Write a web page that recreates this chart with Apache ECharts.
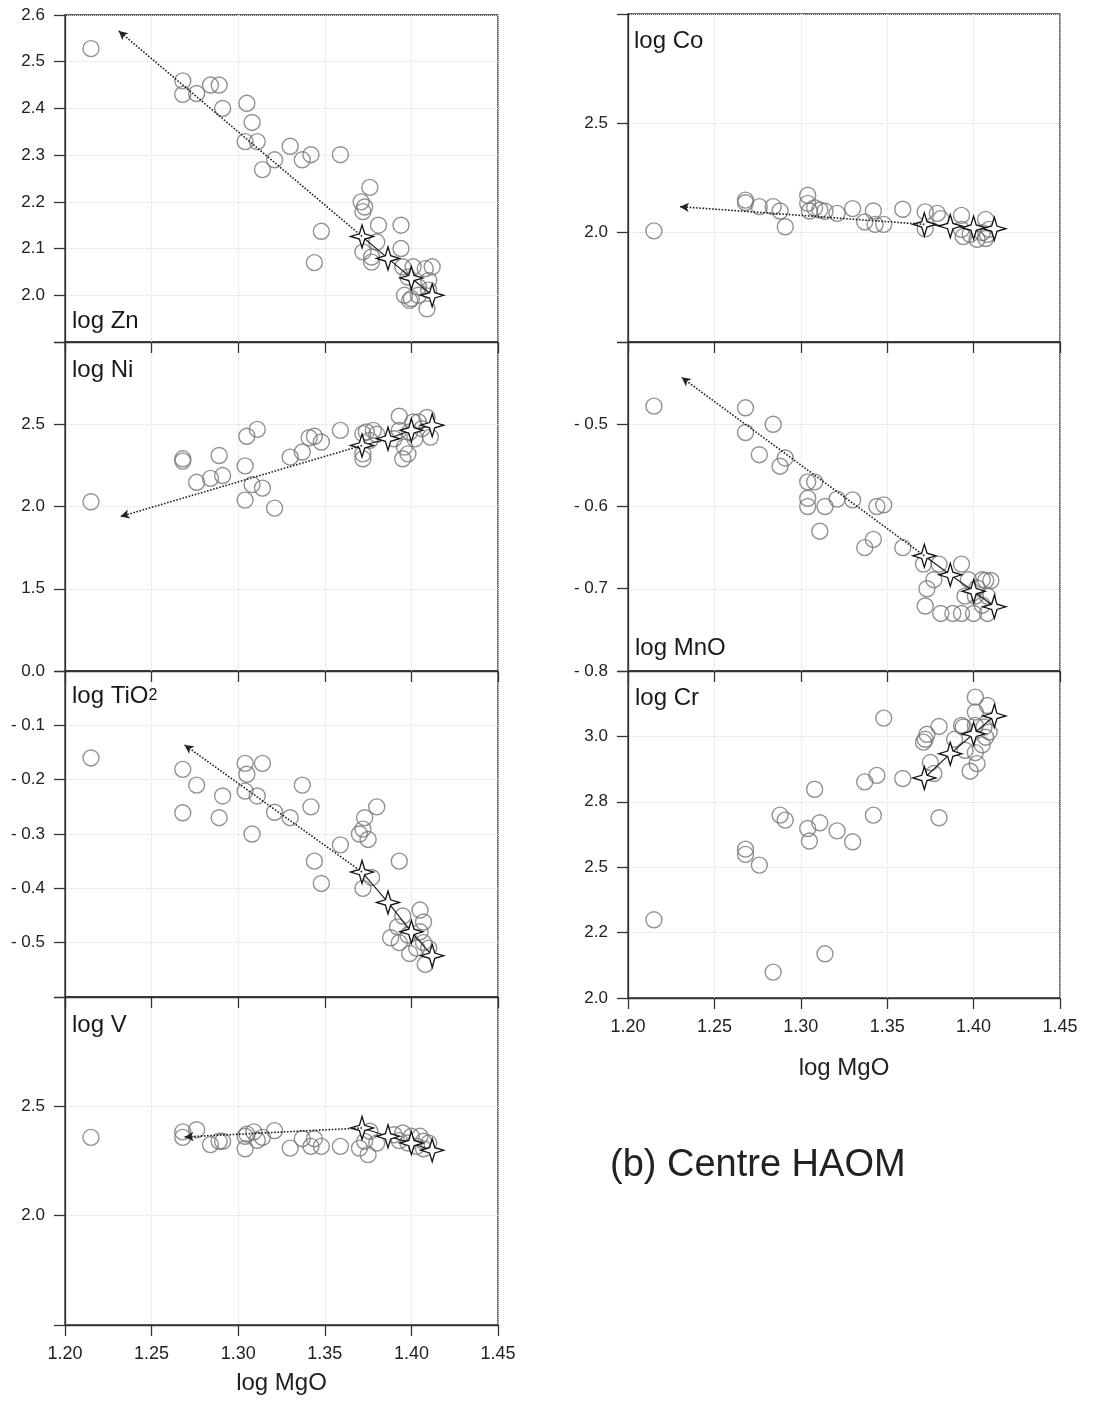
<!DOCTYPE html>
<html>
<head>
<meta charset="utf-8">
<script src="https://cdn.jsdelivr.net/npm/echarts@6/dist/echarts.min.js"></script>
<style>
html,body{margin:0;padding:0;background:#fff;}
#chart{width:1101px;height:1403px;}
</style>
</head>
<body>
<div id="chart"></div>
<script>
// ---------- data (log MgO, log element) ----------
const xTicks = ['1.20','1.25','1.30','1.35','1.40','1.45'];

const znData = [[1.215,2.528],[1.268,2.459],[1.268,2.430],[1.276,2.432],[1.284,2.450],[1.289,2.450],[1.291,2.400],[1.305,2.411],[1.308,2.370],[1.304,2.329],[1.311,2.329],[1.314,2.269],[1.321,2.290],[1.330,2.319],[1.337,2.290],[1.342,2.301],[1.348,2.137],[1.344,2.070],[1.359,2.301],[1.376,2.231],[1.371,2.200],[1.373,2.189],[1.372,2.179],[1.381,2.150],[1.394,2.150],[1.380,2.114],[1.394,2.100],[1.372,2.093],[1.377,2.082],[1.377,2.071],[1.395,2.061],[1.398,2.039],[1.401,2.061],[1.408,2.057],[1.412,2.061],[1.410,2.032],[1.396,2.000],[1.400,1.993],[1.404,2.000],[1.409,1.971],[1.404,2.018],[1.410,2.011],[1.399,1.989]];
const znStars = [[1.3715,2.126],[1.3865,2.079],[1.400,2.037],[1.412,2.000]];
const znArrowEnd = [1.231,2.566];

const niData = [[1.215,2.029],[1.268,2.290],[1.268,2.276],[1.276,2.147],[1.284,2.171],[1.289,2.310],[1.291,2.188],[1.305,2.427],[1.311,2.469],[1.304,2.247],[1.308,2.133],[1.314,2.112],[1.304,2.039],[1.321,1.990],[1.330,2.300],[1.337,2.331],[1.341,2.418],[1.344,2.427],[1.348,2.392],[1.359,2.463],[1.372,2.443],[1.374,2.453],[1.378,2.463],[1.380,2.439],[1.372,2.320],[1.372,2.290],[1.376,2.402],[1.393,2.549],[1.393,2.463],[1.395,2.290],[1.398,2.320],[1.396,2.361],[1.401,2.514],[1.404,2.514],[1.409,2.541],[1.411,2.422],[1.402,2.412],[1.406,2.473],[1.399,2.453],[1.390,2.412]];
const niStars = [[1.3715,2.371],[1.3865,2.412],[1.400,2.463],[1.412,2.494]];
const niArrowEnd = [1.232,1.939];

const tiData = [[1.215,-0.160],[1.268,-0.181],[1.268,-0.261],[1.276,-0.210],[1.291,-0.230],[1.289,-0.270],[1.304,-0.170],[1.305,-0.190],[1.304,-0.221],[1.311,-0.230],[1.314,-0.170],[1.308,-0.300],[1.321,-0.260],[1.330,-0.270],[1.337,-0.210],[1.342,-0.250],[1.344,-0.350],[1.348,-0.391],[1.359,-0.320],[1.373,-0.270],[1.372,-0.291],[1.370,-0.300],[1.375,-0.310],[1.380,-0.250],[1.393,-0.350],[1.377,-0.380],[1.372,-0.400],[1.395,-0.451],[1.392,-0.471],[1.388,-0.491],[1.393,-0.500],[1.399,-0.520],[1.405,-0.440],[1.407,-0.462],[1.405,-0.480],[1.407,-0.500],[1.410,-0.510],[1.408,-0.540],[1.403,-0.510],[1.398,-0.486]];
const tiStars = [[1.3715,-0.370],[1.3865,-0.426],[1.400,-0.480],[1.412,-0.524]];
const tiArrowEnd = [1.269,-0.136];

const vData = [[1.215,2.358],[1.268,2.383],[1.268,2.358],[1.276,2.393],[1.284,2.325],[1.289,2.340],[1.291,2.340],[1.304,2.363],[1.305,2.373],[1.304,2.306],[1.309,2.383],[1.311,2.345],[1.314,2.358],[1.321,2.389],[1.330,2.309],[1.337,2.352],[1.342,2.317],[1.344,2.352],[1.348,2.317],[1.359,2.317],[1.370,2.309],[1.373,2.340],[1.375,2.279],[1.376,2.386],[1.380,2.332],[1.390,2.370],[1.393,2.343],[1.395,2.378],[1.400,2.363],[1.405,2.363],[1.407,2.340],[1.410,2.332],[1.403,2.317],[1.407,2.306],[1.398,2.332]];
const vStars = [[1.3715,2.401],[1.3865,2.363],[1.400,2.332],[1.412,2.299]];
const vArrowEnd = [1.269,2.360];

const coData = [[1.215,2.008],[1.268,2.149],[1.268,2.137],[1.276,2.119],[1.284,2.119],[1.288,2.099],[1.291,2.027],[1.304,2.171],[1.304,2.134],[1.305,2.099],[1.308,2.114],[1.311,2.104],[1.314,2.098],[1.321,2.088],[1.330,2.110],[1.337,2.049],[1.342,2.099],[1.343,2.038],[1.348,2.038],[1.359,2.107],[1.372,2.095],[1.379,2.088],[1.372,2.018],[1.381,2.064],[1.393,2.079],[1.393,2.015],[1.394,1.982],[1.398,1.992],[1.402,1.970],[1.405,2.000],[1.407,2.061],[1.408,1.992],[1.409,2.015],[1.407,1.973]];
const coStars = [[1.3715,2.038],[1.3865,2.030],[1.400,2.023],[1.412,2.018]];
const coArrowEnd = [1.230,2.119];

const mnData = [[1.215,-0.478],[1.268,-0.480],[1.268,-0.510],[1.276,-0.537],[1.284,-0.500],[1.288,-0.551],[1.291,-0.541],[1.304,-0.570],[1.308,-0.570],[1.304,-0.590],[1.304,-0.600],[1.314,-0.600],[1.311,-0.630],[1.321,-0.591],[1.330,-0.592],[1.337,-0.650],[1.342,-0.640],[1.344,-0.600],[1.348,-0.598],[1.359,-0.650],[1.371,-0.670],[1.373,-0.700],[1.372,-0.721],[1.377,-0.689],[1.380,-0.670],[1.381,-0.730],[1.388,-0.730],[1.393,-0.670],[1.393,-0.730],[1.395,-0.709],[1.397,-0.689],[1.400,-0.730],[1.401,-0.709],[1.405,-0.689],[1.407,-0.690],[1.410,-0.690],[1.408,-0.730],[1.405,-0.720],[1.408,-0.709],[1.402,-0.699]];
const mnStars = [[1.3715,-0.660],[1.3865,-0.683],[1.400,-0.703],[1.412,-0.722]];
const mnArrowEnd = [1.231,-0.443];

const crData = [[1.215,2.299],[1.268,2.569],[1.268,2.549],[1.276,2.508],[1.284,2.099],[1.288,2.699],[1.291,2.680],[1.304,2.648],[1.305,2.600],[1.308,2.798],[1.311,2.670],[1.314,2.169],[1.321,2.639],[1.330,2.597],[1.337,2.826],[1.342,2.699],[1.344,2.851],[1.348,3.070],[1.359,2.839],[1.371,2.978],[1.372,2.989],[1.373,3.008],[1.375,2.900],[1.377,2.858],[1.380,2.689],[1.380,3.038],[1.389,2.989],[1.393,3.042],[1.394,3.036],[1.398,2.867],[1.401,3.150],[1.401,3.093],[1.401,3.042],[1.402,2.896],[1.401,2.938],[1.405,2.968],[1.407,2.997],[1.408,3.118],[1.409,3.017],[1.406,3.036],[1.395,2.947]];
const crStars = [[1.3715,2.841],[1.3865,2.934],[1.400,3.010],[1.412,3.078]];

// tick labels
const znTicks = ['2.0','2.1','2.2','2.3','2.4','2.5','2.6'];
const niTicks = ['1.5','2.0','2.5'];
const tiTicks = ['0.0','- 0.1','- 0.2','- 0.3','- 0.4','- 0.5'];
const vTicks = ['2.0','2.5'];
const coTicks = ['2.0','2.5'];
const mnTicks = ['- 0.5','- 0.6','- 0.7','- 0.8'];
const crTickValues = [2.0,2.25,2.5,2.75,3.0];
const crTickLabels = ['2.0','2.2','2.5','2.8','3.0'];

// ---------- build chart ----------
function fmt(v){ const a=Math.abs(v).toFixed(1); return v < -1e-9 ? '- '+a : a; }
function listFmt(ticks){ return v => { const s=fmt(v); return ticks.includes(s)?s:''; }; }
function crFmt(v){ const i=crTickValues.findIndex(t=>Math.abs(t-v)<1e-6); return i>=0?crTickLabels[i]:''; }

const LX=65, LW=433, RX=628, RW=432;
const panels = [
 {data:znData, stars:znStars, arrow:znArrowEnd, left:LX, width:LW, top:15, height:327, min:1.9, max:2.6, interval:0.1, fmt:listFmt(znTicks), showX:false},
 {data:niData, stars:niStars, arrow:niArrowEnd, left:LX, width:LW, top:342, height:329, min:1.0, max:3.0, interval:0.5, fmt:listFmt(niTicks), showX:false},
 {data:tiData, stars:tiStars, arrow:tiArrowEnd, left:LX, width:LW, top:671, height:326, min:-0.6, max:0, interval:0.1, fmt:listFmt(tiTicks), showX:false},
 {data:vData, stars:vStars, arrow:vArrowEnd, left:LX, width:LW, top:997, height:328, min:1.5, max:3.0, interval:0.5, fmt:listFmt(vTicks), showX:true, nameGap:46},
 {data:coData, stars:coStars, arrow:coArrowEnd, left:RX, width:RW, top:14, height:328, min:1.5, max:3.0, interval:0.5, fmt:listFmt(coTicks), showX:false},
 {data:mnData, stars:mnStars, arrow:mnArrowEnd, left:RX, width:RW, top:342, height:329, min:-0.8, max:-0.4, interval:0.1, fmt:listFmt(mnTicks), showX:false},
 {data:crData, stars:crStars, arrow:null, left:RX, width:RW, top:671, height:327, min:2.0, max:3.25, interval:0.25, fmt:crFmt, showX:true, nameGap:58}
];

const FF='Liberation Sans, Arial, sans-serif';
const AX='#333', TXT='#222', GRIDC='#dedede';
const starPath='path://M0,-10 L2.3,-2.3 L10,0 L2.3,2.3 L0,10 L-2.3,2.3 L-10,0 L-2.3,-2.3 Z';

const grid=[], xAxis=[], yAxis=[], series=[];
panels.forEach((p,i)=>{
  grid.push({left:p.left, top:p.top, width:p.width, height:p.height, show:true, borderColor:AX, borderWidth:1.3, backgroundColor:'transparent', containLabel:false});
  xAxis.push({type:'value', gridIndex:i, min:1.2, max:1.45, interval:0.05,
    axisLine:{show:true, onZero:false, lineStyle:{color:AX, width:1.3}},
    axisTick:{show:true, length:11, lineStyle:{color:AX, width:1.3}},
    axisLabel:{show:p.showX, margin:20, fontSize:18, color:TXT, fontFamily:FF,
      formatter:v=>{ const s=v.toFixed(2); return xTicks.includes(s)?s:''; }},
    splitLine:{show:true, lineStyle:{type:'dotted', color:GRIDC, width:1}},
    name:p.showX?'log MgO':'', nameLocation:'middle', nameGap:p.nameGap||30,
    nameTextStyle:{fontSize:24, color:TXT, fontFamily:FF}});
  yAxis.push({type:'value', gridIndex:i, min:p.min, max:p.max, interval:p.interval,
    axisLine:{show:true, onZero:false, lineStyle:{color:AX, width:1.3}},
    axisTick:{show:true, length:11, lineStyle:{color:AX, width:1.3}},
    axisLabel:{show:true, margin:20, fontSize:17, color:TXT, fontFamily:FF, formatter:p.fmt, showMinLabel:true, showMaxLabel:true},
    splitLine:{show:true, lineStyle:{type:'dotted', color:GRIDC, width:1}}});
  series.push({type:'scatter', xAxisIndex:i, yAxisIndex:i, data:p.data, symbol:'circle', symbolSize:16, z:2,
    itemStyle:{color:'rgba(255,255,255,0)', borderColor:'#777', borderWidth:1.4}, silent:true});
  const s={type:'line', xAxisIndex:i, yAxisIndex:i, data:p.stars, symbol:starPath, symbolSize:23, showSymbol:true, z:4,
    lineStyle:{color:'#222', width:1.2}, itemStyle:{color:'#fff', borderColor:'#111', borderWidth:1.3}, silent:true};
  if(p.arrow){
    s.markLine={silent:true, symbol:['none','arrow'], symbolSize:[7,9], label:{show:false},
      lineStyle:{type:'dotted', color:'#222', width:1.6}, emphasis:{disabled:true},
      data:[[{coord:p.stars[0]},{coord:p.arrow}]]};
  }
  series.push(s);
});

const labels=[
  {t:'log Zn', x:72, y:309}, {t:'log Ni', x:72, y:358}, {t:'log V', x:72, y:1013},
  {t:'log Co', x:634, y:29}, {t:'log MnO', x:635, y:636}, {t:'log Cr', x:635, y:686}
];
const graphic = labels.map(l=>({type:'text', left:l.x, top:l.y, z:10, style:{text:l.t, fontSize:24, fill:'#1a1a1a', fontFamily:FF}}));
graphic.push({type:'text', left:72, top:684, z:10, style:{text:'{a|log TiO}{b|2}', fontFamily:FF, fill:'#1a1a1a',
  rich:{a:{fontSize:24, fill:'#1a1a1a', fontFamily:FF}, b:{fontSize:16, fill:'#1a1a1a', fontFamily:FF, padding:[0,0,1,0]}}}});
graphic.push({type:'text', left:610, top:1147, z:10, style:{text:'(b) Centre HAOM', fontSize:38, fill:'#222', fontFamily:FF}});

const chart = echarts.init(document.getElementById('chart'), null, {renderer:'canvas'});
chart.setOption({backgroundColor:'#fff', animation:false, grid, xAxis, yAxis, series, graphic});
</script>
</body>
</html>
